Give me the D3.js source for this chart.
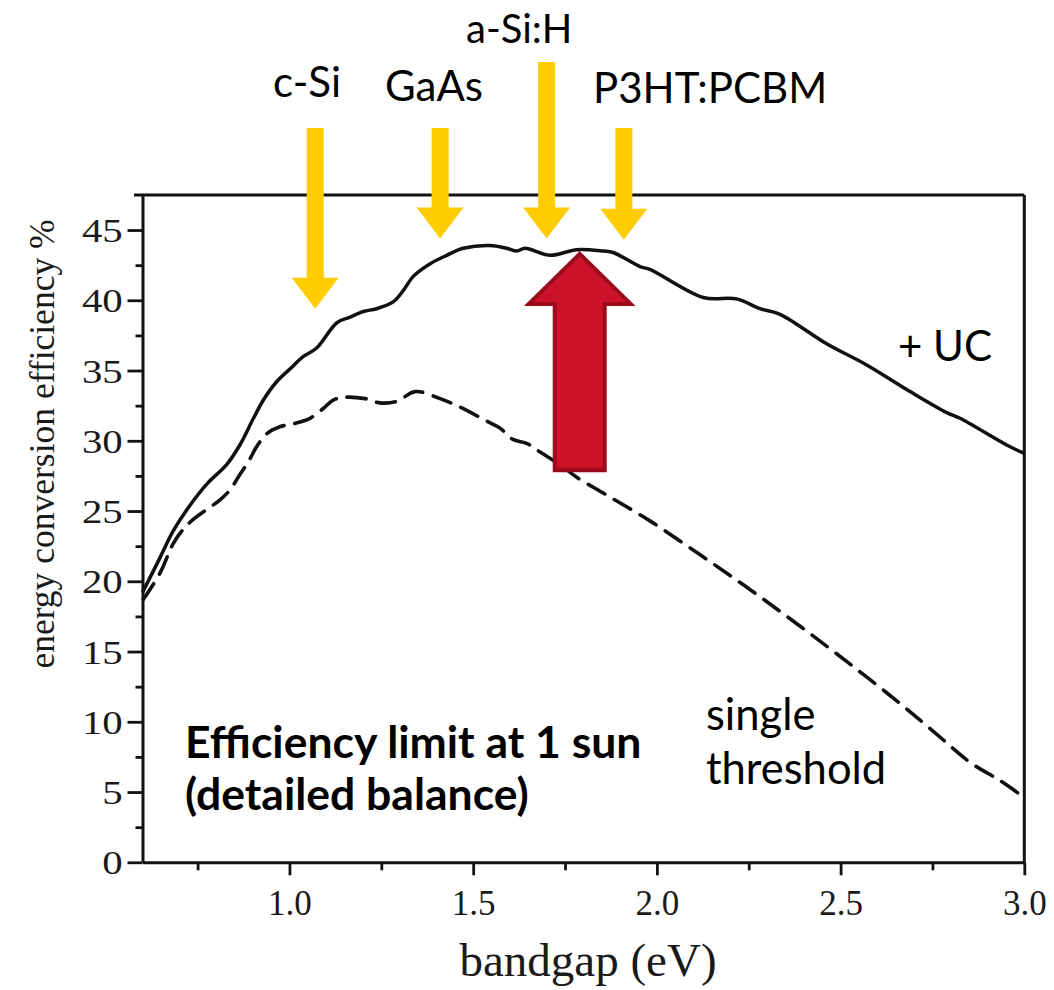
<!DOCTYPE html>
<html>
<head>
<meta charset="utf-8">
<script src="https://cdn.jsdelivr.net/npm/d3@7"></script>
<style>
  body { margin: 0; background: #fff; }
  svg { display: block; }
</style>
</head>
<body>
<svg id="chart" width="1054" height="990"></svg>
<script>
// Detailed-balance efficiency limit with upconversion (+UC), bandgap in eV, efficiency in %
const ucBandgap = [0.600, 0.648, 0.684, 0.729, 0.778, 0.829, 0.865, 0.902, 0.929, 0.965, 1.001, 1.038,
  1.074, 1.129, 1.165, 1.201, 1.237, 1.283, 1.310, 1.337, 1.383, 1.428, 1.473, 1.546, 1.591, 1.619,
  1.641, 1.709, 1.782, 1.854, 1.881, 1.954, 1.981, 2.126, 2.217, 2.281, 2.335, 2.462, 2.571, 2.689,
  2.789, 2.825, 2.952, 3.000];
const ucEfficiency = [19.2, 21.7, 23.6, 25.4, 27.0, 28.3, 29.7, 31.6, 32.9, 34.2, 35.1, 36.0,
  36.6, 38.4, 38.8, 39.2, 39.4, 39.9, 40.7, 41.7, 42.6, 43.2, 43.7, 43.9, 43.7, 43.5,
  43.7, 43.2, 43.6, 43.5, 43.4, 42.4, 42.2, 40.2, 40.1, 39.4, 39.0, 36.9, 35.4, 33.5,
  32.0, 31.6, 29.7, 29.1];

// Single-threshold (Shockley–Queisser) limit
const stBandgap = [0.602, 0.648, 0.684, 0.711, 0.738, 0.811, 0.838, 0.865, 0.888, 0.911, 0.938, 0.974,
  1.010, 1.056, 1.092, 1.119, 1.151, 1.206, 1.246, 1.292, 1.342, 1.410, 1.464, 1.537, 1.573, 1.608,
  1.647, 1.682, 1.736, 1.782, 1.859, 1.981, 2.117, 2.254, 2.390, 2.526, 2.662, 2.771, 2.853, 2.935, 3.000];
const stEfficiency = [18.7, 20.6, 22.7, 23.7, 24.4, 25.8, 26.5, 27.6, 28.5, 29.6, 30.5, 31.0,
  31.2, 31.6, 32.3, 32.9, 33.1, 33.0, 32.7, 32.8, 33.5, 33.0, 32.4, 31.4, 30.9, 30.1,
  29.8, 29.2, 28.3, 27.4, 26.2, 24.3, 21.9, 19.4, 16.8, 14.1, 11.3, 8.9, 7.1, 5.8, 4.6];

// Axis ticks
const xTicks = [1.0, 1.5, 2.0, 2.5, 3.0];
const xTickLabels = ["1.0", "1.5", "2.0", "2.5", "3.0"];
const xMinorTicks = [0.75, 1.25, 1.75, 2.25, 2.75];
const yTicks = [0, 5, 10, 15, 20, 25, 30, 35, 40, 45];
const yMinorTicks = [2.5, 7.5, 12.5, 17.5, 22.5, 27.5, 32.5, 37.5, 42.5];

// Absorber materials and their bandgaps (eV), arrow tips (efficiency %)
const materials = ["c-Si", "GaAs", "a-Si:H", "P3HT:PCBM"];
const materialGap = [1.07, 1.41, 1.70, 1.91];
const materialTip = [39.4, 44.4, 44.4, 44.3];

// Gain from upconversion: bandgap and efficiency span of the red arrow
const gainGap = [1.79];
const gainFrom = [27.9];
const gainTo = [43.3];

const svg = d3.select("#chart");
svg.append("rect").attr("width", 1054).attr("height", 990).attr("fill", "#fff");

const x = d3.scaleLinear().domain([0.6, 3.0]).range([142.5, 1024.3]);
const y = d3.scaleLinear().domain([0, 47.5]).range([862.3, 194.9]);

const serif = "'Liberation Serif', 'Times New Roman', serif";
const sans = "Lato, 'Open Sans', sans-serif";
const ink = "#111";

// Frame: top and right edges
svg.append("line").attr("x1", 134).attr("x2", x(3.0)).attr("y1", y(47.5)).attr("y2", y(47.5))
  .attr("stroke", ink).attr("stroke-width", 3);
svg.append("line").attr("x1", x(3.0)).attr("x2", x(3.0)).attr("y1", y(47.5)).attr("y2", y(0))
  .attr("stroke", ink).attr("stroke-width", 3);

// Bottom axis
const gx = svg.append("g").attr("transform", `translate(0,${y(0)})`);
gx.call(d3.axisBottom(x).tickValues(xTicks).tickSize(13).tickSizeOuter(0)
  .tickFormat((d, i) => xTickLabels[i]));
gx.append("g").call(d3.axisBottom(x).tickValues(xMinorTicks).tickSize(8).tickFormat(""))
  .select(".domain").remove();
gx.selectAll(".domain").attr("stroke", ink).attr("stroke-width", 3);
gx.selectAll(".tick line").attr("stroke", ink).attr("stroke-width", 2.8);
gx.selectAll(".tick text")
  .attr("y", 53).attr("dy", null)
  .attr("font-family", serif).attr("font-size", 35).attr("fill", "#1a1a1a");

// Left axis
const gy = svg.append("g").attr("transform", `translate(${x(0.6)},0)`);
gy.call(d3.axisLeft(y).tickValues(yTicks).tickSize(15).tickSizeOuter(0).tickFormat(d3.format("d")));
gy.append("g").call(d3.axisLeft(y).tickValues(yMinorTicks).tickSize(7).tickFormat(""))
  .select(".domain").remove();
gy.selectAll(".domain").attr("stroke", ink).attr("stroke-width", 3);
gy.selectAll(".tick line").attr("stroke", ink).attr("stroke-width", 2.8);
gy.selectAll(".tick text")
  .attr("x", -16.5).attr("dy", "0.34em")
  .attr("transform", "scale(1.2,1)")
  .attr("font-family", serif).attr("font-size", 34).attr("fill", "#1a1a1a");

// Axis titles
svg.append("text")
  .attr("x", 588).attr("y", 976).attr("text-anchor", "middle")
  .attr("font-family", serif).attr("font-size", 47).attr("fill", "#1a1a1a")
  .text("bandgap (eV)");
svg.append("text")
  .attr("transform", `translate(54,444) rotate(-90)`).attr("text-anchor", "middle")
  .attr("font-family", serif).attr("font-size", 35.5).attr("fill", "#1a1a1a")
  .text("energy conversion efficiency %");

// Efficiency curves
const line = d3.line().x(d => x(d[0])).y(d => y(d[1])).curve(d3.curveCatmullRom.alpha(0.5));

svg.append("path")
  .datum(d3.zip(stBandgap, stEfficiency))
  .attr("d", line).attr("fill", "none")
  .attr("stroke", ink).attr("stroke-width", 3.6)
  .attr("stroke-dasharray", "19,11").attr("stroke-linecap", "round");

svg.append("path")
  .datum(d3.zip(ucBandgap, ucEfficiency))
  .attr("d", line).attr("fill", "none")
  .attr("stroke", ink).attr("stroke-width", 3.5).attr("stroke-linejoin", "round");

// Red arrow: efficiency gain from upconversion
const gain = svg.append("g");
gainGap.forEach((g, i) => {
  const cx = x(g), tip = y(gainTo[i]), base = y(gainFrom[i]);
  const headLen = 50, headHalf = 51, shaftHalf = 25;
  const pts = [
    [cx, tip], [cx + headHalf, tip + headLen], [cx + shaftHalf, tip + headLen],
    [cx + shaftHalf, base], [cx - shaftHalf, base], [cx - shaftHalf, tip + headLen],
    [cx - headHalf, tip + headLen]
  ];
  gain.append("polygon")
    .attr("points", pts.map(p => p.join(",")).join(" "))
    .attr("fill", "#CB1229").attr("stroke", "#9A0B1C").attr("stroke-width", 4)
    .attr("stroke-linejoin", "miter");
});

// Yellow arrows marking absorber bandgaps
const shaftTop = [128, 128, 62, 128];
const labelX = [273, 385, 466, 593];
const labelY = [97, 101, 43, 103];
const labelSize = [42, 42, 40, 42];
const arrows = svg.append("g");
materials.forEach((m, i) => {
  const cx = x(materialGap[i]), tip = y(materialTip[i]);
  const headLen = 31, headHalf = 23.5, shaftHalf = 8.5;
  const pts = [
    [cx - shaftHalf, shaftTop[i]], [cx + shaftHalf, shaftTop[i]], [cx + shaftHalf, tip - headLen],
    [cx + headHalf, tip - headLen], [cx, tip], [cx - headHalf, tip - headLen], [cx - shaftHalf, tip - headLen]
  ];
  arrows.append("polygon")
    .attr("points", pts.map(p => p.join(",")).join(" "))
    .attr("fill", "#FFCC00");
  arrows.append("text")
    .attr("x", labelX[i]).attr("y", labelY[i])
    .attr("font-family", sans).attr("font-size", labelSize[i]).attr("fill", "#000")
    .text(m);
});

// Curve labels
svg.append("text").attr("x", 898).attr("y", 361)
  .attr("font-family", sans).attr("font-size", 42).attr("fill", "#000").text("+ UC");
svg.append("text").attr("x", 706).attr("y", 730)
  .attr("font-family", sans).attr("font-size", 43.5).attr("fill", "#000").text("single");
svg.append("text").attr("x", 706).attr("y", 784)
  .attr("font-family", sans).attr("font-size", 43.5).attr("fill", "#000").text("threshold");

// Panel caption
svg.append("text").attr("x", 185).attr("y", 758)
  .attr("font-family", sans).attr("font-weight", 700).attr("font-size", 44.5).attr("fill", "#000")
  .text("Efficiency limit at 1 sun");
svg.append("text").attr("x", 185).attr("y", 810)
  .attr("font-family", sans).attr("font-weight", 700).attr("font-size", 44.5).attr("fill", "#000")
  .text("(detailed balance)");
</script>
</body>
</html>
